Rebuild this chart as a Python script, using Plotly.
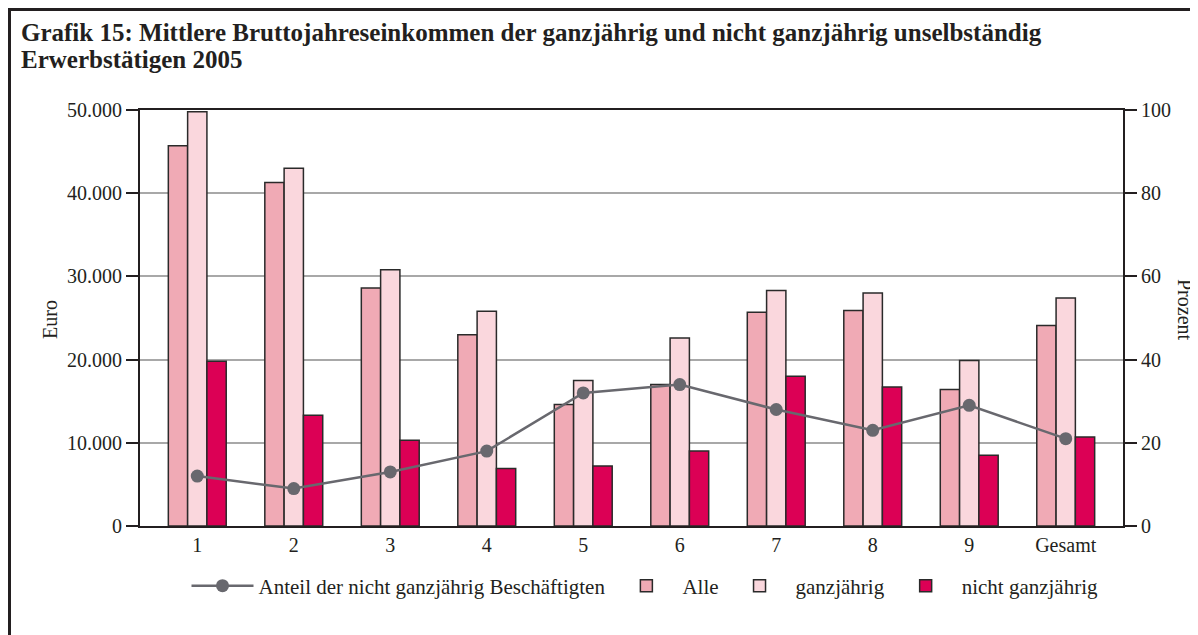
import plotly.graph_objects as go

categories = ["1", "2", "3", "4", "5", "6", "7", "8", "9", "Gesamt"]
alle = [45700, 41300, 28600, 23000, 14600, 17000, 25700, 25900, 16400, 24100]
ganzjaehrig = [49800, 43000, 30800, 25800, 17500, 22600, 28300, 28000, 19900, 27400]
nicht_ganzjaehrig = [19800, 13300, 10300, 6900, 7200, 9000, 18000, 16700, 8500, 10700]
anteil = [12, 9, 13, 18, 32, 34, 28, 23, 29, 21]

y_ticks = [0, 10000, 20000, 30000, 40000, 50000]
y2_ticks = [0, 20, 40, 60, 80, 100]

FONT = "Liberation Serif, Times New Roman, serif"
DARK = "#231f20"
OUTLINE = dict(color="#2a2a2a", width=1.5)
FS = 20

fig = go.Figure()

fig.add_trace(go.Scatter(
    x=categories, y=anteil, yaxis="y2", name="Anteil der nicht ganzjährig Beschäftigten",
    mode="lines+markers", line=dict(color="#68686e", width=2.5),
    marker=dict(color="#68686e", size=13), legendrank=1,
))
fig.add_trace(go.Bar(x=categories, y=alle, name="Alle",
                     marker=dict(color="#f0aab5", line=OUTLINE), legendrank=2))
fig.add_trace(go.Bar(x=categories, y=ganzjaehrig, name="ganzjährig",
                     marker=dict(color="#fad7dd", line=OUTLINE), legendrank=3))
fig.add_trace(go.Bar(x=categories, y=nicht_ganzjaehrig, name="nicht ganzjährig",
                     marker=dict(color="#dc0055", line=OUTLINE), legendrank=4))

# page offset (body margin of the html page)
OFF = 8
W, H = 1190, 627
L = 140 - OFF
T = 110 - OFF
R = W - (1123 - OFF)
B = H - (526 - OFF)
pw, ph = W - L - R, H - T - B

def px_x(px):
    return (px - OFF - L) / pw

def px_y(py):
    return (H - B - (py - OFF)) / ph

fig.update_layout(
    width=W, height=H,
    margin=dict(l=L, r=R, t=T, b=B),
    paper_bgcolor="white", plot_bgcolor="white",
    font=dict(family=FONT, size=FS, color=DARK),
    separators=",.",
    barmode="group", bargap=0.4, bargroupgap=0,
    showlegend=True,
    legend=dict(orientation="h", x=px_x(645), xanchor="center", y=px_y(586), yanchor="middle",
                font=dict(family=FONT, size=21, color=DARK), itemwidth=62,
                bgcolor="rgba(0,0,0,0)", traceorder="normal"),
    xaxis=dict(type="category", showline=True, linecolor=DARK, linewidth=2, mirror=True,
               ticks="", showgrid=False, tickfont=dict(size=FS)),
    yaxis=dict(range=[0, 50000], tickvals=y_ticks, tickformat=",d", showline=True,
               linecolor=DARK, linewidth=2, ticks="outside", ticklen=12, tickwidth=2,
               tickcolor=DARK, showgrid=True, gridcolor="#a8a8a8", gridwidth=1.5,
               zeroline=False, tickfont=dict(size=FS)),
    yaxis2=dict(range=[0, 100], tickvals=y2_ticks, overlaying="y", side="right",
                showline=True, linecolor=DARK, linewidth=2, ticks="outside", ticklen=12,
                tickwidth=2, tickcolor=DARK, showgrid=False, zeroline=False, tickfont=dict(size=FS)),
    annotations=[
        dict(text="<b>Grafik 15: Mittlere Bruttojahreseinkommen der ganzjährig und nicht ganzjährig unselbständig</b>",
             xref="paper", yref="paper", x=px_x(19), y=px_y(32), xanchor="left", yanchor="middle",
             align="left", showarrow=False, font=dict(family=FONT, size=25, color=DARK)),
        dict(text="<b>Erwerbstätigen 2005</b>",
             xref="paper", yref="paper", x=px_x(19), y=px_y(59), xanchor="left", yanchor="middle",
             align="left", showarrow=False, font=dict(family=FONT, size=25, color=DARK)),
        dict(text="Euro", xref="paper", yref="paper", x=px_x(50), y=px_y(320), textangle=-90,
             showarrow=False, xanchor="center", yanchor="middle", font=dict(family=FONT, size=FS, color=DARK)),
        dict(text="Prozent", xref="paper", yref="paper", x=px_x(1185), y=px_y(310), textangle=90,
             showarrow=False, xanchor="center", yanchor="middle", font=dict(family=FONT, size=FS, color=DARK)),
    ],
    shapes=[
        dict(type="line", xref="paper", yref="paper", x0=px_x(8), x1=px_x(1220), y0=px_y(9.5), y1=px_y(9.5),
             line=dict(color=DARK, width=3)),
        dict(type="line", xref="paper", yref="paper", x0=px_x(9.5), x1=px_x(9.5), y0=px_y(8), y1=px_y(660),
             line=dict(color=DARK, width=3)),
    ],
)

fig.write_html("out.html")
